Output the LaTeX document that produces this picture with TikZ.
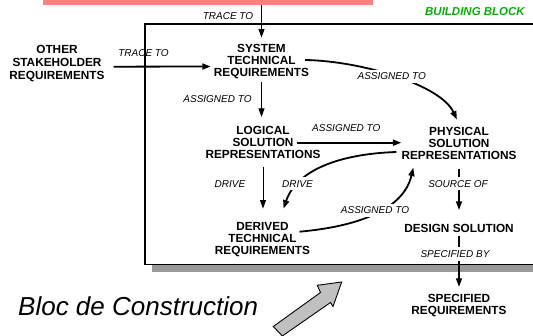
\documentclass[tikz,border=0pt]{standalone}
\usepackage{fontspec}
\setmainfont{Liberation Sans}
\usetikzlibrary{arrows.meta}
\definecolor{barpink}{HTML}{FF8080}
\definecolor{bbgreen}{RGB}{10,170,10}
\definecolor{shadowgrey}{HTML}{999999}
\definecolor{blockgrey}{HTML}{C0C0C0}

\begin{document}
\begin{tikzpicture}[x=1pt,y=-1pt,
  req/.style={font=\fontsize{11.8}{12}\selectfont\bfseries, align=center, inner sep=3pt},
  rel/.style={font=\fontsize{10}{12}\selectfont\itshape, inner sep=2pt},
  gaplabel/.style={rel, fill=white, inner sep=3pt},
  linkthin/.style={line width=1pt},
  linkmid/.style={line width=1.2pt},
  linkthick/.style={line width=1.8pt},
  tip/.style={-{Triangle[length=8.5pt,width=6pt]}},
]
\useasboundingbox (0,0) rectangle (533,336);
\clip (0,0) rectangle (533,336);

% building block frame with its drop shadow
\fill[shadowgrey] (152,31) rectangle (560,272);
\draw[line width=1.8pt, fill=white] (145.3,23.8) rectangle (560,264.5);

% pink bar at the top
\node[fill=barpink, minimum width=330pt, minimum height=4.5pt, inner sep=0, anchor=north west] (bar) at (43,0) {};

% requirement blocks
\node[req, font=\fontsize{11.8}{13.3}\selectfont\bfseries] (other) at (57,63.7) {OTHER\\STAKEHOLDER\\REQUIREMENTS};
\node[req] (sys) at (261.5,61.5) {SYSTEM\\TECHNICAL\\REQUIREMENTS};
\node[req] (logical) at (263,142.3) {LOGICAL\\SOLUTION\\REPRESENTATIONS};
\node[req] (physical) at (459,143.5) {PHYSICAL\\SOLUTION\\REPRESENTATIONS};
\node[req] (derived) at (262.5,240) {DERIVED\\TECHNICAL\\REQUIREMENTS};
\node[req] (design) at (459,228.3) {DESIGN SOLUTION};
\node[req] (specified) at (459,305.3) {SPECIFIED\\REQUIREMENTS};

% connectors
\draw[linkthin, tip, shorten >=3.5pt] (bar.south -| sys.north) -- (sys.north);
\draw[linkthick, tip] ([shift={(6,3)}]other.east) -- ([shift={(0,5)}]sys.west);
\draw[linkthin, tip, shorten >=6pt] (sys.south) -- (sys.south |- logical.north);
\draw[linkthick, tip, shorten >=-3pt] ([shift={(-27,0.4)}]logical.east) -- ([shift={(0,0.4)}]logical.east -| physical.west);
\draw[linkthin, tip, shorten <=5pt, shorten >=11pt] (logical.south) -- (logical.south |- derived.north);
\draw[linkthick, tip, shorten >=5pt] ([shift={(-7,-1.5)}]sys.east)
  .. controls +(57,1) and +(-18,-39) .. (physical.north);
\draw[linkthick, tip] ([shift={(-2,8.5)}]physical.west)
  .. controls +(-58,2) and +(13,-38) .. ([shift={(21,-11)}]derived.north);
\draw[linkthick, tip] ([shift={(-13.7,-8.3)}]derived.east)
  .. controls +(56,-5) and +(-10,43) .. ([shift={(15,4.7)}]physical.south west);
\draw[linkmid, tip, shorten <=6pt, shorten >=11pt] (physical.south) -- (physical.south |- design.north);
\draw[linkmid, tip, shorten >=4pt] (design.south) -- (design.south |- specified.north);

% relation labels
\node[rel] (trace1) at (228,16.2) {TRACE TO};
\node[rel] (trace2) at (143.5,52.7) {TRACE TO};
\node[rel] (assign1) at (217.5,99) {ASSIGNED TO};
\node[gaplabel] (assign2) at (391.7,76.3) {ASSIGNED TO};
\node[rel] (assign3) at (346.3,128) {ASSIGNED TO};
\node[rel] (drive1) at (230,183.7) {DRIVE};
\node[gaplabel] (drive2) at (297.5,183.7) {DRIVE};
\node[gaplabel] (source) at (458,183.7) {SOURCE OF};
\node[gaplabel] (assign4) at (375,210.3) {ASSIGNED TO};
\node[gaplabel] (specby) at (455,254) {SPECIFIED BY};

% title of the frame
\node[font=\fontsize{11.5}{13}\selectfont\bfseries\itshape, text=bbgreen, anchor=east, inner sep=0] (bb) at (525,11.7) {BUILDING BLOCK};

% caption and its pointer
\node[anchor=base west, font=\fontsize{26}{30}\selectfont\itshape, inner sep=0] (bloc) at (18,316) {Bloc de Construction};
\draw[fill=blockgrey, line width=0.9pt, line join=miter]
  (341.7,282) -- (317.3,285.3) -- (320.5,292.5) -- (273.3,326.5)
  -- (282.3,336) -- (330.5,302.5) -- (333,306.5) -- cycle;
\end{tikzpicture}
\end{document}
